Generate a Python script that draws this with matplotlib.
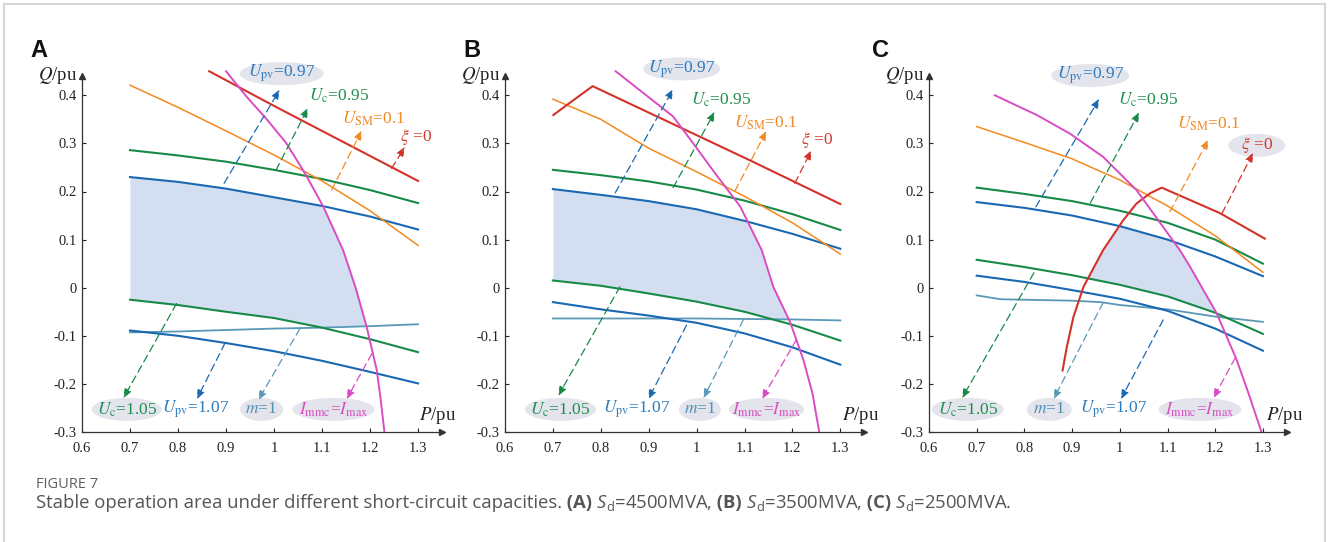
import numpy as np
import matplotlib

matplotlib.use("Agg")
import matplotlib.pyplot as plt
from matplotlib.lines import Line2D
from matplotlib.patches import Ellipse

plt.rcParams.update({
    "font.family": ["Liberation Serif", "DejaVu Serif"],
    "mathtext.fontset": "custom",
    "mathtext.rm": "Open Sans",
    "mathtext.it": "Open Sans:italic",
    "mathtext.bf": "Open Sans:bold",
    "axes.linewidth": 0.9,
})

# ---- data -----------------------------------------------------------------
P_GRID = [0.7, 0.8, 0.9, 1.0, 1.1, 1.2, 1.3]

# (A) Sd = 4500 MVA
A_UPV_097 = [0.230, 0.220, 0.206, 0.188, 0.170, 0.148, 0.121]
A_UC_095 = [0.286, 0.275, 0.262, 0.245, 0.226, 0.203, 0.176]
A_USM_01 = [0.421, 0.375, 0.326, 0.276, 0.222, 0.160, 0.088]
A_UC_105 = [-0.025, -0.036, -0.050, -0.063, -0.083, -0.107, -0.134]
A_UPV_107 = [-0.089, -0.100, -0.115, -0.132, -0.152, -0.175, -0.199]
A_M1 = [-0.093, -0.091, -0.088, -0.085, -0.083, -0.080, -0.076]
A_XI_P = [0.865, 1.0, 1.1, 1.2, 1.3]
A_XI_Q = [0.450, 0.378, 0.326, 0.274, 0.222]
A_IMAX_P = [0.900, 0.943, 0.985, 1.026, 1.065, 1.103, 1.144, 1.170, 1.193, 1.214, 1.222, 1.230]
A_IMAX_Q = [0.450, 0.397, 0.350, 0.300, 0.237, 0.168, 0.078, 0.000, -0.081, -0.171, -0.230, -0.300]

# (B) Sd = 3500 MVA
B_UPV_097 = [0.205, 0.193, 0.180, 0.163, 0.139, 0.112, 0.081]
B_UC_095 = [0.245, 0.234, 0.221, 0.204, 0.181, 0.153, 0.120]
B_USM_01 = [0.392, 0.350, 0.290, 0.241, 0.190, 0.135, 0.070]
B_UC_105 = [0.015, 0.004, -0.012, -0.029, -0.050, -0.077, -0.110]
B_UPV_107 = [-0.030, -0.045, -0.058, -0.073, -0.095, -0.124, -0.160]
B_M1 = [-0.064, -0.064, -0.064, -0.064, -0.065, -0.066, -0.068]
B_XI_P = [0.701, 0.743, 0.783, 1.111, 1.300]
B_XI_Q = [0.359, 0.390, 0.419, 0.265, 0.174]
B_IMAX_P = [0.831, 0.951, 0.993, 1.040, 1.091, 1.136, 1.160, 1.195, 1.223, 1.242, 1.256]
B_IMAX_Q = [0.450, 0.356, 0.300, 0.236, 0.169, 0.078, 0.002, -0.071, -0.150, -0.220, -0.300]

# (C) Sd = 2500 MVA
C_UPV_097 = [0.178, 0.166, 0.150, 0.128, 0.100, 0.065, 0.024]
C_UC_095 = [0.208, 0.195, 0.180, 0.160, 0.135, 0.100, 0.050]
C_USM_01 = [0.335, 0.302, 0.268, 0.224, 0.170, 0.108, 0.032]
C_UC_105 = [0.058, 0.043, 0.026, 0.006, -0.018, -0.052, -0.096]
C_UPV_107 = [0.025, 0.012, -0.005, -0.023, -0.048, -0.085, -0.131]
C_M1_P = [0.70, 0.75, 0.80, 0.90, 0.96, 1.00, 1.10, 1.20, 1.30]
C_M1_Q = [-0.016, -0.024, -0.025, -0.027, -0.030, -0.036, -0.045, -0.060, -0.071]
C_XI_P = [0.880, 0.889, 0.903, 0.924, 0.952, 0.965, 1.007, 1.035, 1.063, 1.088, 1.210, 1.304]
C_XI_Q = [-0.172, -0.123, -0.060, 0.002, 0.054, 0.078, 0.140, 0.175, 0.196, 0.208, 0.155, 0.102]
C_IMAX_P = [0.738, 0.826, 0.896, 0.965, 1.035, 1.091, 1.126, 1.147, 1.203, 1.245, 1.270, 1.297]
C_IMAX_Q = [0.400, 0.359, 0.320, 0.272, 0.203, 0.126, 0.078, 0.044, -0.053, -0.150, -0.220, -0.300]

# ---- styling ----------------------------------------------------------------
COLORS = {
    "upv": "#1a68b2", "uc": "#178a48", "usm": "#f28a1f", "xi": "#d2322a",
    "imax": "#d94cc4", "m": "#5a98b8",
}
TEXT_COLORS = {
    "upv": "#2b7bbf", "uc": "#1f8f4e", "usm": "#f08a24", "xi": "#d23b2c",
    "imax": "#d94fc0", "m": "#4f92b2",
}
LABELS = {
    "upv_097": (r"$U_{\rm pv}$=0.97", "upv"),
    "uc_095": (r"$U_{\rm c}$=0.95", "uc"),
    "usm_01": (r"$U_{\rm SM}$=0.1", "usm"),
    "xi_0": (r"$\xi$ =0", "xi"),
    "uc_105": (r"$U_{\rm c}$=1.05", "uc"),
    "upv_107": (r"$U_{\rm pv}$=1.07", "upv"),
    "m_1": (r"$m$=1", "m"),
    "imax": (r"$I_{\rm mmc}$=$I_{\rm max}$", "imax"),
}
FILL_COLOR = "#d3dff0"
BUBBLE_COLOR = "#e4e4ed"

# label key, arrow tail (P, Q), arrow head (P, Q), text centre (P, Q), bubble width in px
NOTES = {
    "A": [
        ("upv_097", (0.896, 0.217), (1.012, 0.412), (1.016, 0.445), 84),
        ("uc_095", (1.004, 0.244), (1.071, 0.374), (1.135, 0.400), None),
        ("usm_01", (1.120, 0.203), (1.183, 0.327), (1.207, 0.351), None),
        ("xi_0", (1.245, 0.248), (1.273, 0.293), (1.295, 0.313), None),
        ("uc_105", (0.797, -0.033), (0.686, -0.230), (0.693, -0.253), 70),
        ("upv_107", (0.898, -0.115), (0.839, -0.232), (0.837, -0.253), None),
        ("m_1", (1.054, -0.085), (0.967, -0.234), (0.974, -0.253), 43),
        ("imax", (1.204, -0.137), (1.151, -0.232), (1.124, -0.253), 82),
    ],
    "B": [
        ("upv_097", (0.830, 0.197), (0.951, 0.413), (0.969, 0.455), 77),
        ("uc_095", (0.951, 0.208), (1.038, 0.366), (1.052, 0.391), None),
        ("usm_01", (1.080, 0.201), (1.146, 0.326), (1.144, 0.343), None),
        ("xi_0", (1.205, 0.217), (1.240, 0.286), (1.252, 0.308), None),
        ("uc_105", (0.840, 0.002), (0.711, -0.225), (0.716, -0.253), 71),
        ("upv_107", (0.979, -0.078), (0.899, -0.232), (0.875, -0.253), None),
        ("m_1", (1.098, -0.066), (1.014, -0.230), (1.007, -0.253), 42),
        ("imax", (1.209, -0.107), (1.136, -0.232), (1.146, -0.253), 75),
    ],
    "C": [
        ("upv_097", (0.824, 0.168), (0.957, 0.393), (0.938, 0.441), 78),
        ("uc_095", (0.938, 0.176), (1.041, 0.365), (1.060, 0.391), None),
        ("usm_01", (1.105, 0.158), (1.186, 0.308), (1.186, 0.341), None),
        ("xi_0", (1.214, 0.154), (1.280, 0.281), (1.287, 0.296), 57),
        ("uc_105", (0.820, 0.031), (0.669, -0.230), (0.681, -0.253), 72),
        ("m_1", (0.965, -0.031), (0.861, -0.232), (0.852, -0.253), 45),
        ("upv_107", (1.091, -0.067), (1.002, -0.232), (0.986, -0.253), None),
        ("imax", (1.242, -0.146), (1.196, -0.230), (1.168, -0.253), 83),
    ],
}

PANELS = {
    "A": dict(upv_097=(P_GRID, A_UPV_097), uc_095=(P_GRID, A_UC_095), usm=(P_GRID, A_USM_01),
              uc_105=(P_GRID, A_UC_105), upv_107=(P_GRID, A_UPV_107), m1=(P_GRID, A_M1),
              xi=(A_XI_P, A_XI_Q), imax=(A_IMAX_P, A_IMAX_Q), xi_bounds=False),
    "B": dict(upv_097=(P_GRID, B_UPV_097), uc_095=(P_GRID, B_UC_095), usm=(P_GRID, B_USM_01),
              uc_105=(P_GRID, B_UC_105), upv_107=(P_GRID, B_UPV_107), m1=(P_GRID, B_M1),
              xi=(B_XI_P, B_XI_Q), imax=(B_IMAX_P, B_IMAX_Q), xi_bounds=False),
    "C": dict(upv_097=(P_GRID, C_UPV_097), uc_095=(P_GRID, C_UC_095), usm=(P_GRID, C_USM_01),
              uc_105=(P_GRID, C_UC_105), upv_107=(P_GRID, C_UPV_107), m1=(C_M1_P, C_M1_Q),
              xi=(C_XI_P, C_XI_Q), imax=(C_IMAX_P, C_IMAX_Q), xi_bounds=True),
}

# axis origin (px from left) and px per unit along P for each panel
AXES_PX = {"A": (82, 480), "B": (505, 479), "C": (929, 477)}
W, H = 1330, 542
Y0_PX, Y_SCALE = 432, 481
XMAX, YMAX = 1.35, 0.44


def stable_region(ax, d):
    grid = np.linspace(0.7, 1.3, 1201)
    top = np.minimum(np.interp(grid, *d["upv_097"]), np.interp(grid, *d["imax"]))
    if d["xi_bounds"]:
        top = np.minimum(top, np.interp(grid, *d["xi"], left=-1.0))
    bottom = np.maximum(np.interp(grid, *d["uc_105"]), np.interp(grid, *d["m1"]))
    ax.fill_between(grid, bottom, top, where=top > bottom, interpolate=True,
                    color=FILL_COLOR, lw=0, zorder=0.5)


def draw_panel(ax, key):
    d = PANELS[key]
    stable_region(ax, d)
    line = dict(zorder=2, clip_on=False, solid_joinstyle="round")
    ax.plot(*d["m1"], color=COLORS["m"], lw=1.3, **line)
    ax.plot(*d["upv_107"], color=COLORS["upv"], lw=1.5, **line)
    ax.plot(*d["uc_105"], color=COLORS["uc"], lw=1.5, **line)
    ax.plot(*d["upv_097"], color=COLORS["upv"], lw=1.5, **line)
    ax.plot(*d["uc_095"], color=COLORS["uc"], lw=1.5, **line)
    ax.plot(*d["usm"], color=COLORS["usm"], lw=1.1, **line)
    ax.plot(*d["xi"], color=COLORS["xi"], lw=1.5, **line)
    ax.plot(*d["imax"], color=COLORS["imax"], lw=1.4, **line)

    x_scale = AXES_PX[key][1]
    for name, tail, head, centre, bubble in NOTES[key]:
        text, ckey = LABELS[name]
        ax.annotate("", xy=head, xytext=tail, annotation_clip=False,
                    arrowprops=dict(arrowstyle="-|>,head_length=0.55,head_width=0.22",
                                    color=COLORS[ckey], lw=0.9, linestyle=(0, (6, 3.5)),
                                    shrinkA=0, shrinkB=0), zorder=3)
        if bubble:
            ax.add_patch(Ellipse(centre, bubble / x_scale, 23 / Y_SCALE,
                                 color=BUBBLE_COLOR, lw=0, zorder=1, clip_on=False))
        ax.text(*centre, text, color=TEXT_COLORS[ckey], fontsize=12.5, ha="center",
                va="center", math_fontfamily="stix", zorder=5, clip_on=False)

    ax.set_xlim(0.6, XMAX)
    ax.set_ylim(-0.3, YMAX)
    for side in ("top", "right"):
        ax.spines[side].set_visible(False)
    for side in ("left", "bottom"):
        ax.spines[side].set_color("#333333")
    ax.plot(1, 0, ">", color="#333333", ms=4.5, transform=ax.transAxes, clip_on=False)
    ax.plot(0, 1, "^", color="#333333", ms=4.5, transform=ax.transAxes, clip_on=False)

    xt = [0.6, 0.7, 0.8, 0.9, 1.0, 1.1, 1.2, 1.3]
    yt = [-0.3, -0.2, -0.1, 0.0, 0.1, 0.2, 0.3, 0.4]
    ax.set_xticks(xt, ["0.6", "0.7", "0.8", "0.9", "1", "1.1", "1.2", "1.3"])
    ax.set_yticks(yt, ["-0.3", "-0.2", "-0.1", "0", "0.1", "0.2", "0.3", "0.4"])
    ax.tick_params(direction="in", length=3, width=0.8, labelsize=10.5,
                   colors="#222222")
    ax.tick_params(axis="x", pad=7)
    ax.tick_params(axis="y", pad=4)
    ax.patch.set_alpha(0)


fig = plt.figure(figsize=(W / 100, H / 100), dpi=100)

for key in ("A", "B", "C"):
    x0, xs = AXES_PX[key]
    ax = fig.add_axes([x0 / W, (H - Y0_PX) / H, (XMAX - 0.6) * xs / W,
                       (YMAX + 0.3) * Y_SCALE / H])
    draw_panel(ax, key)
    fig.text((x0 - 5) / W, 1 - 75 / H, r"$Q$/pu", fontsize=13.5, ha="right",
             va="center", math_fontfamily="stix", color="#222222")
    fig.text((x0 + 337) / W, 1 - 416 / H, r"$P$/pu", fontsize=13.5, ha="left",
             va="center", math_fontfamily="stix", color="#222222")

for letter, xpx in (("A", 30), ("B", 463), ("C", 872)):
    fig.text(xpx / W, 1 - 57 / H, letter, fontsize=17, fontweight="bold",
             family="Liberation Sans", va="baseline", ha="left", color="#111111")

# page frame
frame = dict(color="#d6d6d6", lw=1.5, transform=fig.transFigure)
fig.add_artist(Line2D([4 / W, 1325 / W], [1 - 4 / H, 1 - 4 / H], **frame))
fig.add_artist(Line2D([4 / W, 4 / W], [0, 1 - 4 / H], **frame))
fig.add_artist(Line2D([1325 / W, 1325 / W], [0, 1 - 4 / H], **frame))

# caption
fig.text(36 / W, 1 - 484 / H, "FIGURE 7", family="Open Sans", fontsize=10.5,
         color="#5f5f5f", va="center")
pieces = [
    ("Stable operation area under different short-circuit capacities.", "normal"),
    (" (A)", "bold"), (r" $S_\mathrm{d}$=4500MVA,", "normal"),
    (" (B)", "bold"), (r" $S_\mathrm{d}$=3500MVA,", "normal"),
    (" (C)", "bold"), (r" $S_\mathrm{d}$=2500MVA.", "normal"),
]
renderer = fig.canvas.get_renderer()
x = 36 / W
for text, weight in pieces:
    t = fig.text(x, 1 - 503 / H, text, family="Open Sans", fontsize=13.3,
                 fontweight=weight, color="#555555", va="center")
    x += t.get_window_extent(renderer).width / fig.bbox.width

fig.savefig("out.png", dpi=100)
